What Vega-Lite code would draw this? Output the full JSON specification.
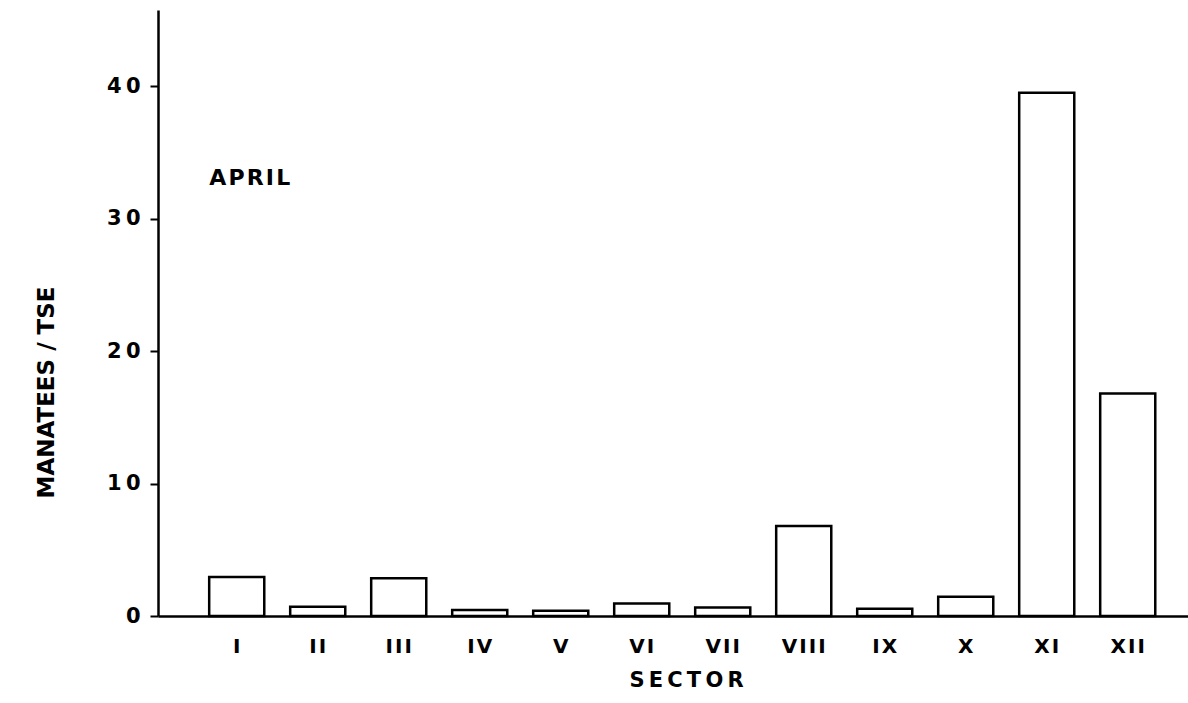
{
  "$schema": "https://vega.github.io/schema/vega-lite/v6.json",
  "autosize": "none",
  "width": 1030,
  "height": 606,
  "padding": {"left": 158, "top": 10, "right": 0, "bottom": 87},
  "background": "white",
  "config": {
    "view": {"stroke": null},
    "font": "DejaVu Sans",
    "axis": {
      "grid": false,
      "domainColor": "black",
      "domainWidth": 2.5,
      "tickColor": "black",
      "labelColor": "black",
      "titleColor": "black",
      "labelFont": "DejaVu Sans",
      "titleFont": "DejaVu Sans",
      "labelFontWeight": "bold",
      "titleFontWeight": "bold"
    }
  },
  "data": {
    "values": [
      {"sector": "I", "manatees_per_tse": 2.95},
      {"sector": "II", "manatees_per_tse": 0.7},
      {"sector": "III", "manatees_per_tse": 2.85},
      {"sector": "IV", "manatees_per_tse": 0.45},
      {"sector": "V", "manatees_per_tse": 0.4},
      {"sector": "VI", "manatees_per_tse": 0.95},
      {"sector": "VII", "manatees_per_tse": 0.65},
      {"sector": "VIII", "manatees_per_tse": 6.8},
      {"sector": "IX", "manatees_per_tse": 0.55},
      {"sector": "X", "manatees_per_tse": 1.45},
      {"sector": "XI", "manatees_per_tse": 39.5},
      {"sector": "XII", "manatees_per_tse": 16.8}
    ]
  },
  "layer": [
    {
      "mark": {"type": "bar", "fill": "white", "stroke": "black", "strokeWidth": 2.5},
      "encoding": {
        "x": {
          "field": "sector",
          "type": "ordinal",
          "scale": {
            "type": "band",
            "domain": ["I", "II", "III", "IV", "V", "VI", "VII", "VIII", "IX", "X", "XI", "XII"],
            "paddingInner": 0.32,
            "paddingOuter": 0.518,
            "align": 0.61
          },
          "axis": {
            "title": "S\u2009E\u2009C\u2009T\u2009O\u2009R",
            "titleFontSize": 21,
            "titleX": 528,
            "titleY": 64,
            "titleBaseline": "middle",
            "titleAlign": "center",
            "labelAngle": 0,
            "labelFontSize": 20,
            "labelPadding": 20,
            "ticks": false,
            "labelExpr": "join(split(datum.label, ''), '\u200a')"
          }
        },
        "y": {
          "field": "manatees_per_tse",
          "type": "quantitative",
          "scale": {"domain": [0, 45.75], "nice": false, "zero": true},
          "axis": {
            "title": "MANATEES / TSE",
            "titleFontSize": 23,
            "titleX": -112,
            "titleY": 382,
            "titleAngle": -90,
            "titleAlign": "center",
            "titleBaseline": "middle",
            "values": [0, 10, 20, 30, 40],
            "labelFontSize": 21,
            "labelPadding": 10,
            "tickSize": 8,
            "tickWidth": 2,
            "labelExpr": "join(split(datum.label, ''), '\u2009')"
          }
        }
      }
    },
    {
      "data": {"values": [{"sector": "I", "value": 33.05, "label": "A\u200aP\u200aR\u200aI\u200aL"}]},
      "mark": {"type": "text", "align": "left", "baseline": "middle", "fontSize": 22, "fontWeight": "bold", "font": "DejaVu Sans", "color": "black"},
      "encoding": {
        "x": {"field": "sector", "type": "ordinal", "bandPosition": 0},
        "y": {"field": "value", "type": "quantitative"},
        "text": {"field": "label"}
      }
    }
  ]
}
